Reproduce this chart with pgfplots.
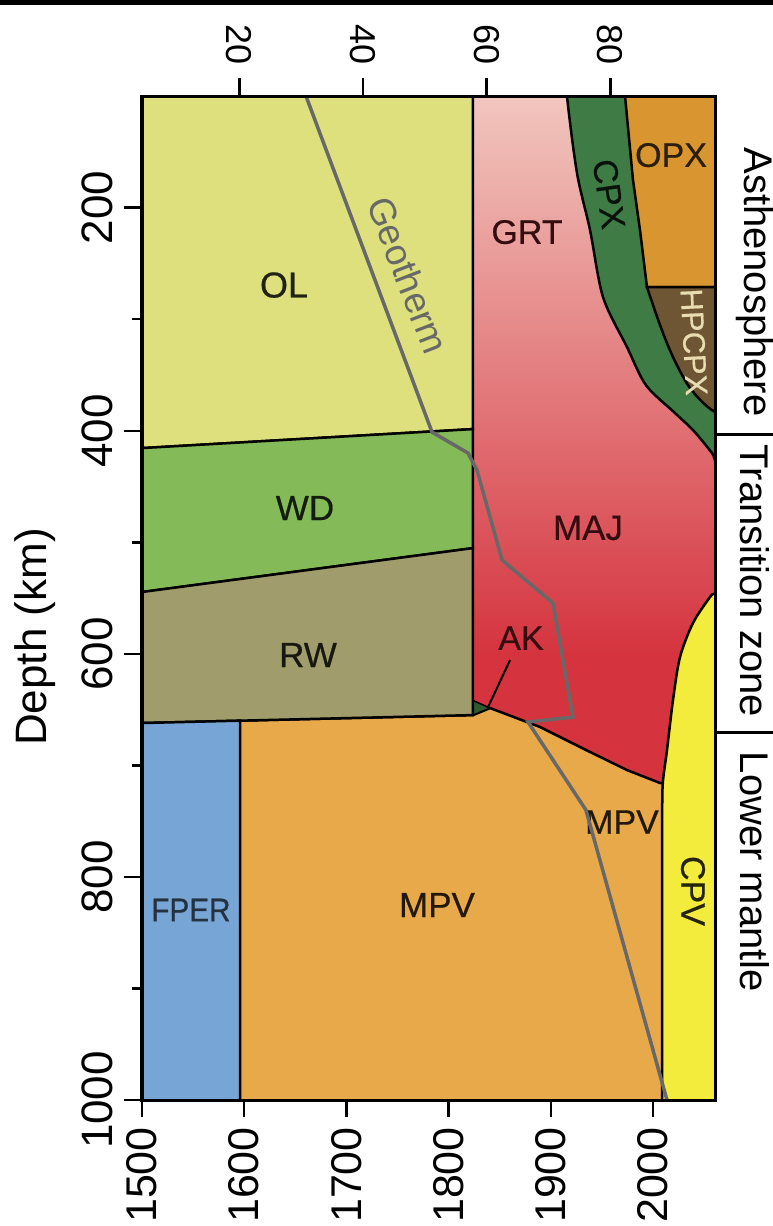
\documentclass[border=0pt]{standalone}
\usepackage{pgfplots}
\pgfplotsset{compat=1.18}
\usepackage{fontspec}
\setmainfont{Liberation Sans}
\newfontfamily\labfont[FakeBold=0.5]{Liberation Sans}

\definecolor{olc}{HTML}{DEE07D}
\definecolor{wdc}{HTML}{84BA58}
\definecolor{rwc}{HTML}{A09C6C}
\definecolor{fperc}{HTML}{77A6D6}
\definecolor{mpvc}{HTML}{E8A94A}
\definecolor{grttop}{HTML}{F2C9C1}
\definecolor{grtmid}{HTML}{E07C7E}
\definecolor{majc}{HTML}{D5343F}
\definecolor{cpxc}{HTML}{3E7B45}
\definecolor{opxc}{HTML}{D99630}
\definecolor{hpcpxc}{HTML}{6E5533}
\definecolor{cpvc}{HTML}{F4EC3C}
\definecolor{akc}{HTML}{2F5A30}
\definecolor{geoc}{HTML}{686868}

\newcommand\fs[1]{\fontsize{#1}{#1}\selectfont}
\newcommand\lf[1]{\labfont\fontsize{#1}{#1}\selectfont}

\begin{document}
\begin{tikzpicture}
\begin{axis}[
 at={(0pt,0pt)}, anchor=south west,
 width=573pt, height=1004pt, scale only axis,
 xmin=4.27, xmax=96.94, ymin=100, ymax=1000, y dir=reverse,
 axis on top,
 xtick={20,40,60,80}, xtick pos=right, xticklabel pos=right,
 ytick={200,400,600,800,1000}, minor ytick={300,500,700,900},
 ytick pos=left, yticklabel pos=left,
 tick align=outside,
 major tick length=18pt, minor tick length=10pt,
 tick style={black, line width=2.5pt},
 axis line style={black, line width=3pt},
 /pgf/number format/assume math mode=true,
 /pgf/number format/set thousands separator={},
 xticklabel style={rotate=-90, anchor=east, inner sep=0pt, font=\fs{36}},
 yticklabel style={rotate=90, anchor=south, inner sep=0pt, font=\fs{44}},
 xticklabel shift=13pt, yticklabel shift=11pt,
 ]
% GRT / MAJ gradient
\addplot[draw=none, top color=grttop, middle color=grtmid, bottom color=majc] coordinates {(57.8,90)(98,90)(98,600)(57.8,600)} -- cycle;
\addplot[draw=none, fill=majc] coordinates {(57.8,599)(98,599)(98,730)(57.8,730)} -- cycle;
% CPX
\addplot[smooth, fill=cpxc, draw=black, line width=2.5pt] coordinates {(72.6,60)(73.0,100)(74.62,169.0)(76.73,220.1)(78.83,280.2)(82.71,325.0)(85.77,359.1)(90.31,383.3)(93.38,399.4)(96.46,420.0)(99.2,440.6)(115,445)(115,60)} -- cycle;
% OPX
\addplot[fill=opxc, draw=black, line width=2.5pt] coordinates {(82.2,60)(82.39,100)(83.68,175.3)(84.81,220.1)(85.94,271.2)(115,271.2)(115,60)} -- cycle;
% HPCPX
\addplot[smooth, fill=hpcpxc, draw=black, line width=2.5pt] coordinates {(85.94,271.2)(88.05,305.3)(90.15,334.0)(92.90,361.7)(96.46,381.5)(99.5,384)(115,384)(115,271.2)} -- cycle;
% MPV
\addplot[fill=mpvc, draw=black, line width=2.5pt] coordinates {(0,662.6)(57.8,654.9)(60.56,648.6)(68.64,665.6)(76.73,688.0)(82.71,704.2)(88.05,715.8)(88.6,716)(115,716)(115,1050)(0,1050)} -- cycle;
% CPV
\addplot[smooth, fill=cpvc, draw=black, line width=2.5pt] coordinates {(100,541)(96.94,546)(96.13,549.1)(93.38,572.4)(91.28,602.9)(90.15,641.4)(89.18,686.2)(88.5,715.8)(88.4,745)(88.4,800)(88.4,900)(88.4,1000)(88.4,1040)(88.4,1060)(100,1060)(115,1060)(115,541)} -- cycle;
% AK
\addplot[fill=akc, draw=black, line width=1.5pt] coordinates {(57.8,641.8)(60.56,648.6)(57.8,654.9)} -- cycle;
% OL, WD, RW, FPER
\addplot[fill=olc, draw=black, line width=2.5pt] coordinates {(0,60)(57.8,60)(57.8,398.5)(0,416.9)} -- cycle;
\addplot[fill=wdc, draw=black, line width=2.5pt] coordinates {(0,416.9)(57.8,398.5)(57.8,505.2)(0,547.7)} -- cycle;
\addplot[fill=rwc, draw=black, line width=2.5pt] coordinates {(0,547.7)(57.8,505.2)(57.8,654.9)(0,662.6)} -- cycle;
\addplot[fill=fperc, draw=black, line width=2.5pt] coordinates {(0,662.6)(20.12,659.9)(20.12,1050)(0,1050)} -- cycle;
% AK leader
\addplot[black, line width=2pt] coordinates {(63.79,605.6)(60.3,647)};
% labels
\node[font=\lf{36}, text=black!85!olc] at (axis cs:27.24,269.4) {OL};
\node[font=\lf{35}, text=black!85!wdc] at (axis cs:30.63,469.3) {WD};
\node[font=\lf{35}, text=black!85!rwc] at (axis cs:31.12,601.1) {RW};
\node[font=\lf{33}, text=black!70!fperc, xscale=0.9] at (axis cs:12.19,829.7) {FPER};
\node[font=\lf{35}, text=black!85!mpvc] at (axis cs:51.98,825.2) {MPV};
\node[font=\lf{34}, text=black!85!mpvc] at (axis cs:81.9,750.8) {MPV};
\node[font=\lf{34}, text=black!75!majc] at (axis cs:66.54,221.9) {GRT};
\node[font=\lf{35}, text=black!75!majc] at (axis cs:76.40,487.2) {MAJ};
\node[font=\lf{34}, text=black!75!majc] at (axis cs:65.57,585.9) {AK};
\node[font=\lf{34}, text=black!80!opxc] at (axis cs:89.83,152.9) {OPX};
\node[font=\lf{34}, text=black!85!cpxc, rotate=-82] at (axis cs:79.80,187.8) {CPX};
\node[font=\lf{31}, text={rgb,255:red,232;green,220;blue,176}, rotate=-87] at (axis cs:93.54,320.5) {HPCPX};
\node[font=\lf{34}, text=black!85!cpvc, rotate=-90] at (axis cs:93.38,812.6) {CPV};
\node[font=\fs{37}, text=geoc, rotate=-69] at (axis cs:47.29,260.5) {Geotherm};
\end{axis}
\begin{axis}[
 at={(0pt,0pt)}, anchor=south west,
 width=573pt, height=1004pt, scale only axis,
 xmin=1500, xmax=2060.7, ymin=100, ymax=1000, y dir=reverse,
 axis on top,
 xtick={1500,1600,1700,1800,1900,2000}, xtick pos=left, xticklabel pos=left,
 ytick=\empty,
 tick align=outside, major tick length=17pt,
 tick style={black, line width=2.5pt},
 axis line style={black, line width=3pt},
 /pgf/number format/assume math mode=true,
 /pgf/number format/set thousands separator={},
 xticklabel style={rotate=90, anchor=east, inner sep=0pt, font=\fs{43}},
 xticklabel shift=10pt,
]
\addplot[geoc, line width=3.5pt] coordinates {(1660.5,100)(1783.8,401.2)(1819.0,420.0)(1827.8,435.3)(1852.3,515.9)(1902.2,554.5)(1921.7,656.7)(1877.7,661.1)(1934.4,740.0)(2013.7,1000)};
\end{axis}
\fill[black] (-142pt,1095pt) rectangle (631pt,1100pt);
\draw[black, line width=3pt] (575pt,665pt) -- (631pt,665pt);
\draw[black, line width=3pt] (575pt,367pt) -- (631pt,367pt);
\node[rotate=-90, font=\fs{40}] at (613pt,818pt) {Asthenosphere};
\node[rotate=-90, font=\fs{40}] at (613pt,519pt) {Transition zone};
\node[rotate=-90, font=\fs{40}] at (613pt,228pt) {Lower mantle};
\node[rotate=90, font=\fs{44}] at (-107pt,463pt) {Depth (km)};
\pgfresetboundingbox
\path[use as bounding box] (-142pt,-126pt) rectangle (631pt,1100pt);
\end{tikzpicture}
\end{document}
